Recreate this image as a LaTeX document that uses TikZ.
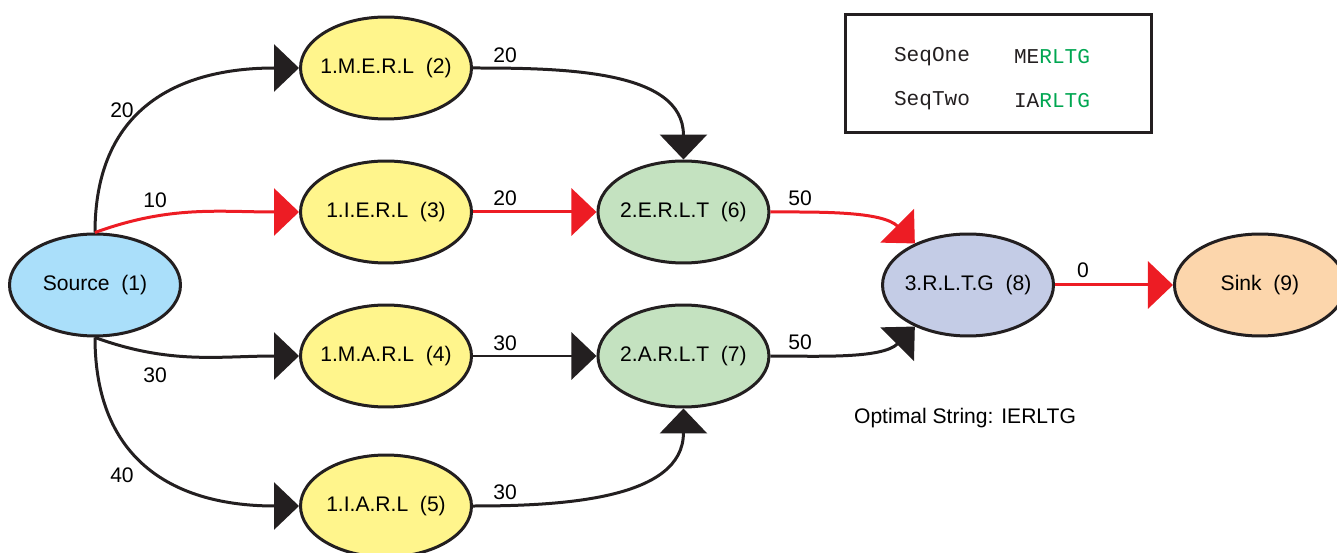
\documentclass[tikz,border=0pt]{standalone}
\usepackage{fontspec}
\setmainfont{Liberation Sans}
\setmonofont{Liberation Mono}
\usetikzlibrary{positioning,arrows.meta,shapes.geometric}

\definecolor{darkline}{RGB}{35,31,32}
\definecolor{arrred}{RGB}{237,28,36}
\definecolor{srcblue}{RGB}{170,223,250}
\definecolor{ylw}{RGB}{255,245,140}
\definecolor{grn}{RGB}{196,226,192}
\definecolor{lav}{RGB}{196,204,230}
\definecolor{pch}{RGB}{252,214,172}
\definecolor{seqgreen}{RGB}{0,166,81}

% keep every ellipse the same size, whatever its text
\newcommand{\stlabel}[1]{\makebox[0pt]{#1}}

\begin{document}
\begin{tikzpicture}[x=0.02cm,y=-0.02cm,
state/.style={draw=darkline, ellipse, line width=0.06cm, minimum width=3.42cm, minimum height=2.04cm, inner sep=0pt, font=\fontsize{12}{14}\selectfont},
link/.style={draw=darkline, line width=0.06cm, -{Triangle[length=0.5cm,width=0.94cm]}},
bestlink/.style={link, draw=arrred},
wt/.style={font=\fontsize{12}{14}\selectfont},
seq/.style={font=\fontsize{12}{14}\ttfamily, text=darkline},
]
\useasboundingbox (0,0) rectangle (1337,553);

\node[state, fill=srcblue] (source) at (95,285) {\stlabel{Source~~(1)}};
% first letters
\node[state, fill=ylw] (merl) at (386,68) {\stlabel{1.M.E.R.L~~(2)}};
\node[state, fill=ylw] (ierl) at (386,212) {\stlabel{1.I.E.R.L~~(3)}};
\node[state, fill=ylw] (marl) at (386,356) {\stlabel{1.M.A.R.L~~(4)}};
\node[state, fill=ylw] (iarl) at (386,506) {\stlabel{1.I.A.R.L~~(5)}};
\draw[link] (source.north) to[out=90,in=180,looseness=1.2] (merl.west);
\draw[bestlink] (source.north) to[out=20,in=180] (ierl.west);
\draw[link] (source.south) to[out=-20,in=180] (marl.west);
\draw[link] (source.south) to[out=-90,in=180,looseness=1.2] (iarl.west);
\node[wt] (w12) at (122,110) {20};
\node[wt] (w13) at (155,200) {10};
\node[wt] (w14) at (155,375) {30};
\node[wt] (w15) at (122,475) {40};

%%% second letters
\node[state, fill=grn, right=2.47cm of ierl] (erlt) {\stlabel{2.E.R.L.T~~(6)}};
\node[state, fill=grn, right=2.47cm of marl] (arlt) {\stlabel{2.A.R.L.T~~(7)}};
\draw[link] (merl.east) to[out=0,in=90] (erlt.north);
\draw[bestlink] (ierl) -- (erlt);
\draw[link] (marl) -- (arlt);
\draw[link] (iarl.east) to[out=0,in=-90] (arlt.south);
\node[wt] (w26) at (505,55) {20};
\node[wt] (w36) at (505,198) {20};
\node[wt] (w47) at (505,343) {30};
\node[wt] (w57) at (505,492) {30};

%%% third letters and sink
\node[state, fill=lav] (rltg) at (968,285) {\stlabel{3.R.L.T.G~~(8)}};
\node[state, fill=pch, right=2.36cm of rltg] (sink) {\stlabel{Sink~~(9)}};
\draw[bestlink] (erlt.east) to[out=0,in=135,looseness=0.8] (rltg.142);
\draw[link] (arlt.east) to[out=0,in=-135,looseness=0.8] (rltg.218);
\draw[bestlink] (rltg) -- (sink);
\node[wt] (w68) at (800,198) {50};
\node[wt] (w78) at (800,342) {50};
\node[wt] (w89) at (1083,270) {0};

\node[wt] (optimal) at (965,418) {Optimal String: IERLTG};

% sequences
\node[draw=darkline, line width=0.06cm, minimum width=6.14cm, minimum height=2.38cm, inner sep=0pt] (legend) at (998.5,73.5) {};
\node[seq] (seqone) at (932,57) {SeqOne};
\node[seq] (strone) at (1052,57) {ME\textcolor{seqgreen}{RLTG}};
\node[seq] (seqtwo) at (932,101) {SeqTwo};
\node[seq] (strtwo) at (1052,101) {IA\textcolor{seqgreen}{RLTG}};
\end{tikzpicture}
\end{document}
